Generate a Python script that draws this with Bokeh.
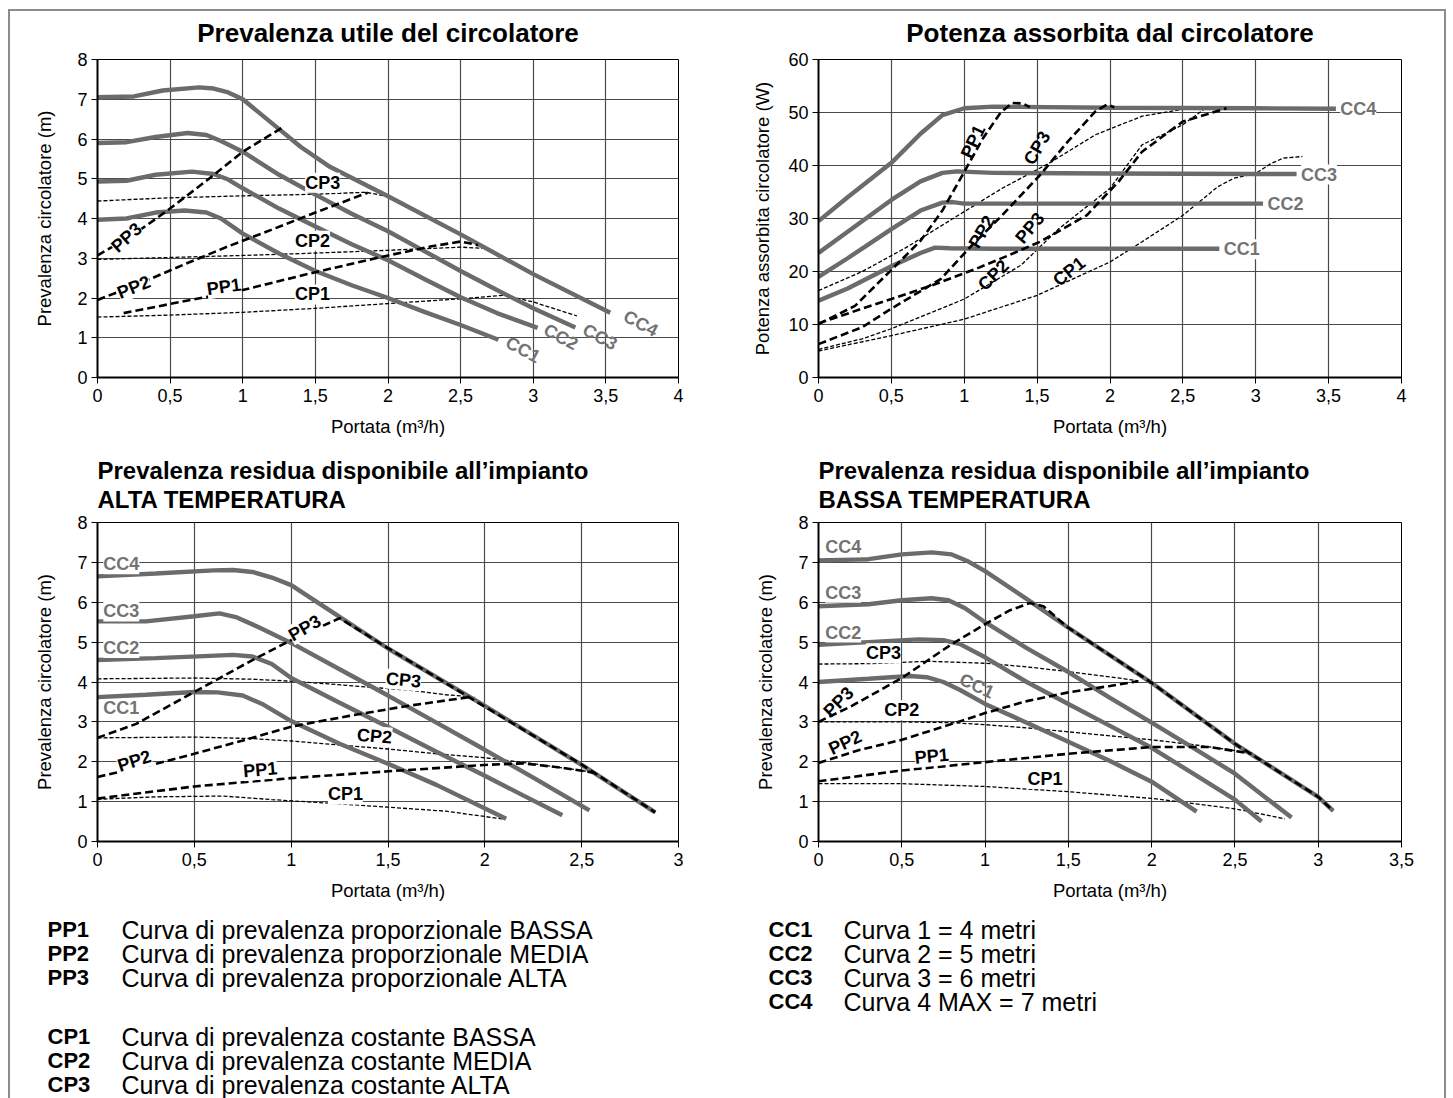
from bokeh.plotting import figure
from bokeh.models import Range1d, FixedTicker, Label
from bokeh.layouts import row, column
from bokeh.embed import file_html
from bokeh.resources import INLINE
from bokeh.core.properties import value

FONT = "Liberation Sans"

# ---------------- tick labels ----------------
x_ticks_4 = [0, 0.5, 1, 1.5, 2, 2.5, 3, 3.5, 4]
x_tick_labels_4 = ["0", "0,5", "1", "1,5", "2", "2,5", "3", "3,5", "4"]
x_ticks_3 = [0, 0.5, 1, 1.5, 2, 2.5, 3]
x_tick_labels_3 = ["0", "0,5", "1", "1,5", "2", "2,5", "3"]
x_ticks_35 = [0, 0.5, 1, 1.5, 2, 2.5, 3, 3.5]
x_tick_labels_35 = ["0", "0,5", "1", "1,5", "2", "2,5", "3", "3,5"]
y_ticks_m = [0, 1, 2, 3, 4, 5, 6, 7, 8]
y_tick_labels_m = ["0", "1", "2", "3", "4", "5", "6", "7", "8"]
y_ticks_w = [0, 10, 20, 30, 40, 50, 60]
y_tick_labels_w = ["0", "10", "20", "30", "40", "50", "60"]

# ---------------- A: Prevalenza utile del circolatore ----------------
A_CC1_x = [0, 0.2, 0.4, 0.6, 0.75, 0.85, 1.0, 1.25, 1.5, 1.75, 2.0, 2.25, 2.5, 2.76]
A_CC1_y = [3.97, 4.0, 4.15, 4.2, 4.15, 4.0, 3.62, 3.12, 2.68, 2.32, 2.0, 1.65, 1.32, 0.95]
A_CC2_x = [0, 0.2, 0.4, 0.65, 0.8, 0.9, 1.0, 1.25, 1.5, 1.75, 2.0, 2.25, 2.5, 2.75, 3.03]
A_CC2_y = [4.93, 4.95, 5.1, 5.18, 5.12, 4.98, 4.76, 4.25, 3.8, 3.35, 2.95, 2.48, 2.02, 1.62, 1.25]
A_CC3_x = [0, 0.2, 0.4, 0.62, 0.75, 0.85, 1.0, 1.25, 1.5, 1.75, 2.0, 2.25, 2.5, 2.75, 3.0, 3.29]
A_CC3_y = [5.9, 5.92, 6.05, 6.15, 6.1, 5.95, 5.68, 5.1, 4.6, 4.12, 3.68, 3.18, 2.68, 2.2, 1.74, 1.26]
A_CC4_x = [0, 0.25, 0.45, 0.7, 0.8, 0.9, 1.0, 1.2, 1.4, 1.6, 2.0, 2.5, 3.0, 3.53]
A_CC4_y = [7.05, 7.07, 7.22, 7.3, 7.27, 7.17, 7.0, 6.4, 5.8, 5.3, 4.56, 3.6, 2.6, 1.63]
A_PP1_x = [0.18, 0.5, 1.0, 1.5, 2.0, 2.3, 2.5, 2.62]
A_PP1_y = [1.62, 1.85, 2.2, 2.65, 3.07, 3.3, 3.42, 3.33]
A_PP2_x = [0, 0.3, 0.6, 0.9, 1.2, 1.5, 1.86]
A_PP2_y = [1.95, 2.38, 2.85, 3.3, 3.72, 4.15, 4.65]
A_PP3_x = [0, 0.25, 0.47, 0.75, 1.0, 1.27]
A_PP3_y = [3.07, 3.6, 4.17, 4.95, 5.68, 6.28]
A_CP1_x = [0, 0.5, 1.0, 1.5, 2.0, 2.5, 2.8, 3.0, 3.3]
A_CP1_y = [1.52, 1.57, 1.64, 1.74, 1.86, 1.98, 2.07, 1.9, 1.55]
A_CP2_x = [0, 0.5, 1.0, 1.5, 2.0, 2.5, 2.65]
A_CP2_y = [2.97, 3.02, 3.07, 3.13, 3.2, 3.28, 3.25]
A_CP3_x = [0, 0.5, 1.0, 1.5, 1.85, 2.0]
A_CP3_y = [4.44, 4.52, 4.57, 4.61, 4.66, 4.55]

# ---------------- B: Potenza assorbita dal circolatore ----------------
B_CC1_x = [0, 0.2, 0.5, 0.7, 0.8, 0.9, 1.2, 2.0, 2.75]
B_CC1_y = [14.5, 16.8, 21.0, 23.5, 24.5, 24.4, 24.3, 24.3, 24.3]
B_CC2_x = [0, 0.2, 0.5, 0.7, 0.85, 0.92, 1.0, 2.0, 3.05]
B_CC2_y = [19.0, 22.5, 28.0, 31.5, 33.0, 33.1, 32.8, 32.8, 32.8]
B_CC3_x = [0, 0.2, 0.5, 0.7, 0.85, 0.95, 1.2, 2.0, 3.0, 3.28]
B_CC3_y = [23.5, 27.5, 33.5, 37.0, 38.6, 38.9, 38.6, 38.5, 38.4, 38.4]
B_CC4_x = [0, 0.2, 0.5, 0.7, 0.85, 1.0, 1.2, 2.0, 3.0, 3.55]
B_CC4_y = [29.5, 34.0, 40.5, 46.0, 49.5, 50.8, 51.1, 50.9, 50.8, 50.7]
B_PP1_x = [0, 0.25, 0.5, 0.7, 0.85, 1.0, 1.13, 1.25, 1.33, 1.4, 1.45]
B_PP1_y = [10.1, 13.5, 20.3, 25.8, 31.5, 38.8, 45.2, 50.0, 51.8, 51.7, 51.0]
B_PP2_x = [0, 0.3, 0.5, 0.84, 1.03, 1.26, 1.52, 1.71, 1.9, 1.98, 2.03]
B_PP2_y = [6.3, 9.5, 13.0, 18.6, 24.3, 30.6, 38.2, 44.5, 50.2, 51.5, 51.0]
B_PP3_x = [0, 0.3, 0.5, 0.78, 1.08, 1.3, 1.52, 1.84, 2.06, 2.22, 2.5, 2.8]
B_PP3_y = [10.2, 13.0, 14.8, 17.4, 20.5, 23.0, 25.6, 30.6, 37.0, 42.6, 48.3, 50.8]
B_CP1_x = [0, 0.5, 1.0, 1.5, 2.0, 2.22, 2.5, 2.74, 2.85, 3.0, 3.1, 3.19, 3.32]
B_CP1_y = [5.0, 7.9, 11.0, 15.5, 21.8, 25.6, 30.6, 36.0, 37.6, 38.5, 40.3, 41.4, 41.7]
B_CP2_x = [0, 0.3, 0.5, 1.0, 1.39, 1.65, 2.0, 2.22, 2.5, 2.64]
B_CP2_y = [5.3, 7.3, 9.2, 14.8, 21.2, 28.1, 35.7, 43.9, 47.7, 50.5]
B_CP3_x = [0, 0.3, 0.6, 1.0, 1.26, 1.58, 1.9, 2.22, 2.5, 2.65]
B_CP3_y = [16.4, 20.0, 24.5, 31.3, 35.7, 40.4, 45.8, 49.3, 50.6, 51.0]

# ---------------- C: residua ALTA TEMPERATURA ----------------
C_CC1_x = [0, 0.25, 0.5, 0.62, 0.75, 0.85, 1.0, 1.25, 1.5, 1.75, 2.11]
C_CC1_y = [3.62, 3.68, 3.75, 3.74, 3.66, 3.45, 3.02, 2.45, 1.95, 1.42, 0.57]
C_CC2_x = [0, 0.3, 0.55, 0.7, 0.8, 0.9, 1.0, 1.25, 1.5, 1.75, 2.0, 2.2, 2.4]
C_CC2_y = [4.55, 4.6, 4.65, 4.68, 4.64, 4.45, 4.1, 3.48, 2.87, 2.25, 1.65, 1.15, 0.66]
C_CC3_x = [0, 0.25, 0.5, 0.63, 0.72, 0.83, 1.0, 1.25, 1.5, 1.75, 2.0, 2.25, 2.54]
C_CC3_y = [5.52, 5.52, 5.65, 5.72, 5.62, 5.38, 4.98, 4.32, 3.66, 2.98, 2.3, 1.6, 0.78]
C_CC4_x = [0, 0.3, 0.6, 0.7, 0.8, 0.9, 1.0, 1.26, 1.5, 2.0, 2.5, 2.88]
C_CC4_y = [6.65, 6.72, 6.8, 6.81, 6.76, 6.62, 6.43, 5.6, 4.84, 3.4, 1.92, 0.73]
C_PP1_x = [0, 0.5, 1.0, 1.5, 2.0, 2.2, 2.4, 2.57]
C_PP1_y = [1.08, 1.38, 1.59, 1.76, 1.92, 1.96, 1.85, 1.72]
C_PP2_x = [0, 0.3, 0.5, 0.8, 1.0, 1.3, 1.6, 1.92]
C_PP2_y = [1.62, 1.95, 2.2, 2.6, 2.88, 3.15, 3.4, 3.62]
C_PP3_x = [0, 0.2, 0.5, 0.8, 1.0, 1.25, 1.5, 2.0, 2.5, 2.88]
C_PP3_y = [2.6, 2.95, 3.75, 4.55, 5.05, 5.6, 4.85, 3.38, 1.93, 0.73]
C_CP1_x = [0, 0.3, 0.65, 0.9, 1.2, 1.5, 1.8, 2.1]
C_CP1_y = [1.06, 1.12, 1.14, 1.05, 0.96, 0.86, 0.76, 0.56]
C_CP2_x = [0, 0.5, 0.8, 1.0, 1.25, 1.5, 1.75, 2.0, 2.25, 2.5, 2.57]
C_CP2_y = [2.6, 2.62, 2.58, 2.52, 2.42, 2.32, 2.2, 2.1, 1.95, 1.78, 1.72]
C_CP3_x = [0, 0.5, 0.8, 1.0, 1.2, 1.4, 1.6, 1.8, 1.95]
C_CP3_y = [4.08, 4.1, 4.07, 4.02, 3.95, 3.87, 3.8, 3.68, 3.62]

# ---------------- D: residua BASSA TEMPERATURA ----------------
D_CC1_x = [0, 0.3, 0.55, 0.65, 0.75, 0.85, 1.0, 1.25, 1.5, 1.75, 2.0, 2.27]
D_CC1_y = [4.0, 4.08, 4.15, 4.12, 4.0, 3.8, 3.45, 2.98, 2.5, 2.02, 1.5, 0.75]
D_CC2_x = [0, 0.3, 0.6, 0.75, 0.85, 1.0, 1.25, 1.5, 1.75, 2.0, 2.25, 2.5, 2.66]
D_CC2_y = [4.93, 5.0, 5.07, 5.05, 4.95, 4.62, 4.0, 3.45, 2.9, 2.35, 1.7, 1.05, 0.5]
D_CC3_x = [0, 0.3, 0.5, 0.68, 0.78, 0.88, 1.0, 1.25, 1.5, 1.75, 2.0, 2.25, 2.5, 2.84]
D_CC3_y = [5.9, 5.95, 6.05, 6.1, 6.05, 5.85, 5.5, 4.85, 4.25, 3.6, 2.98, 2.35, 1.7, 0.6]
D_CC4_x = [0, 0.3, 0.5, 0.68, 0.8, 0.9, 1.0, 1.24, 1.5, 2.0, 2.5, 3.0, 3.09]
D_CC4_y = [7.05, 7.08, 7.2, 7.25, 7.2, 7.02, 6.78, 6.11, 5.36, 3.98, 2.45, 1.12, 0.77]
D_PP1_x = [0, 0.5, 1.0, 1.5, 2.0, 2.35, 2.6]
D_PP1_y = [1.51, 1.78, 1.99, 2.2, 2.37, 2.37, 2.2]
D_PP2_x = [0, 0.25, 0.5, 0.75, 1.0, 1.25, 1.5, 1.75, 1.92]
D_PP2_y = [1.97, 2.3, 2.55, 2.88, 3.22, 3.52, 3.74, 3.9, 4.02]
D_PP3_x = [0, 0.2, 0.5, 0.8, 1.0, 1.15, 1.27, 1.35, 1.5, 2.0, 2.5, 3.0, 3.09]
D_PP3_y = [3.0, 3.4, 4.1, 4.95, 5.45, 5.8, 5.98, 5.9, 5.36, 3.98, 2.45, 1.12, 0.77]
D_CP1_x = [0, 0.5, 1.0, 1.5, 2.0, 2.5, 2.8]
D_CP1_y = [1.45, 1.45, 1.38, 1.25, 1.08, 0.82, 0.57]
D_CP2_x = [0, 0.5, 0.8, 1.0, 1.25, 1.5, 1.75, 2.0, 2.25, 2.5, 2.6]
D_CP2_y = [3.0, 3.0, 2.98, 2.93, 2.85, 2.75, 2.65, 2.55, 2.43, 2.28, 2.2]
D_CP3_x = [0, 0.3, 0.66, 1.0, 1.25, 1.5, 1.75, 1.92]
D_CP3_y = [4.45, 4.46, 4.52, 4.47, 4.38, 4.26, 4.13, 4.03]

# ---------------- legend texts ----------------
leg_left_codes = ["PP1", "PP2", "PP3", "CP1", "CP2", "CP3"]
leg_left_texts = ["Curva di prevalenza proporzionale BASSA",
                  "Curva di prevalenza proporzionale MEDIA",
                  "Curva di prevalenza proporzionale ALTA",
                  "Curva di prevalenza costante BASSA",
                  "Curva di prevalenza costante MEDIA",
                  "Curva di prevalenza costante ALTA"]
leg_right_codes = ["CC1", "CC2", "CC3", "CC4"]
leg_right_texts = ["Curva 1 = 4 metri", "Curva 2 = 5 metri",
                   "Curva 3 = 6 metri", "Curva 4 MAX = 7 metri"]

GRAY = "#6b6b6b"
LGRAY = "#737373"


def make_panel(width, height, xmax, ymax, xticks, xlabels, yticks, ylabels,
               ylabel, ml, mr, mt, mb, ylab_standoff, title, title_size):
    p = figure(width=width, height=height, x_range=Range1d(0, xmax),
               y_range=Range1d(0, ymax), output_backend="svg",
               toolbar_location=None, min_border_left=ml, min_border_right=mr,
               min_border_top=mt, min_border_bottom=mb, title=title)
    p.border_fill_color = None
    p.background_fill_color = "white"
    p.outline_line_color = "black"
    p.outline_line_width = 1
    p.xaxis.ticker = FixedTicker(ticks=xticks)
    p.xaxis.major_label_overrides = dict(zip(xticks, xlabels))
    p.yaxis.ticker = FixedTicker(ticks=yticks)
    p.yaxis.major_label_overrides = dict(zip(yticks, ylabels))
    p.xaxis.axis_label = "Portata (m³/h)"
    p.yaxis.axis_label = ylabel
    for ax in (p.xaxis[0], p.yaxis[0]):
        ax.major_label_text_font = FONT
        ax.major_label_text_font_size = "18px"
        ax.major_label_text_color = "black"
        ax.axis_label_text_font = FONT
        ax.axis_label_text_font_size = "18.5px"
        ax.axis_label_text_font_style = "normal"
        ax.axis_label_text_color = "black"
        ax.axis_line_width = 2
        ax.axis_line_color = "black"
        ax.major_tick_out = 6
        ax.major_tick_in = 0
        ax.minor_tick_out = 0
        ax.minor_tick_in = 0
        ax.major_tick_line_color = "black"
    p.xaxis.major_label_standoff = 5
    p.yaxis.major_label_standoff = 4
    p.xaxis.axis_label_standoff = 11
    p.yaxis.axis_label_standoff = ylab_standoff
    p.xgrid.grid_line_color = "#4a4a4a"
    p.ygrid.grid_line_color = "#4a4a4a"
    p.xgrid.grid_line_width = 1.2
    p.ygrid.grid_line_width = 1.2
    p.title.text_font = FONT
    p.title.text_font_size = title_size
    p.title.text_font_style = "bold"
    p.title.text_color = "black"
    return p


def cc(p, x, y):
    p.line(x, y, line_color=GRAY, line_width=4.4)


def pp(p, x, y):
    p.line(x, y, line_color="black", line_width=2.6, line_dash="8 4")


def cp(p, x, y):
    p.line(x, y, line_color="black", line_width=1.3, line_dash="4 2")


def lab(p, text, x, y, angle=0, color="black", align="center", bg="white"):
    p.add_layout(Label(x=x, y=y, text=text, angle=angle, angle_units="deg",
                       text_font=FONT, text_font_size="18px",
                       text_font_style="bold", text_color=color,
                       text_align=align, text_baseline="middle",
                       background_fill_color=bg))


# ---------- panel A ----------
pA = make_panel(712, 443, 4, 8, x_ticks_4, x_tick_labels_4, y_ticks_m,
                y_tick_labels_m, "Prevalenza circolatore (m)",
                89, 42, 57, 68, 19, "Prevalenza utile del circolatore", "26px")
pA.title.align = "center"
pA.title.standoff = 24
for x, y in [(A_CP1_x, A_CP1_y), (A_CP2_x, A_CP2_y), (A_CP3_x, A_CP3_y)]:
    cp(pA, x, y)
for x, y in [(A_CC1_x, A_CC1_y), (A_CC2_x, A_CC2_y), (A_CC3_x, A_CC3_y), (A_CC4_x, A_CC4_y)]:
    cc(pA, x, y)
for x, y in [(A_PP1_x, A_PP1_y), (A_PP2_x, A_PP2_y), (A_PP3_x, A_PP3_y)]:
    pp(pA, x, y)
lab(pA, "CP3", 1.55, 4.9)
lab(pA, "CP2", 1.48, 3.44)
lab(pA, "CP1", 1.48, 2.09)
lab(pA, "PP1", 0.87, 2.28, 8)
lab(pA, "PP2", 0.25, 2.27, 22)
lab(pA, "PP3", 0.2, 3.52, 42)
lab(pA, "CC1", 2.93, 0.7, -28, LGRAY, bg=None)
lab(pA, "CC2", 3.19, 1.02, -28, LGRAY, bg=None)
lab(pA, "CC3", 3.46, 1.02, -28, LGRAY, bg=None)
lab(pA, "CC4", 3.74, 1.36, -28, LGRAY, bg=None)

# ---------- panel B ----------
pB = make_panel(726, 443, 4, 60, x_ticks_4, x_tick_labels_4, y_ticks_w,
                y_tick_labels_w, "Potenza assorbita circolatore (W)",
                98, 45, 57, 68, 12, "Potenza assorbita dal circolatore", "26px")
pB.title.align = "center"
pB.title.standoff = 24
for x, y in [(B_CP1_x, B_CP1_y), (B_CP2_x, B_CP2_y), (B_CP3_x, B_CP3_y)]:
    cp(pB, x, y)
for x, y in [(B_CC1_x, B_CC1_y), (B_CC2_x, B_CC2_y), (B_CC3_x, B_CC3_y), (B_CC4_x, B_CC4_y)]:
    cc(pB, x, y)
for x, y in [(B_PP1_x, B_PP1_y), (B_PP2_x, B_PP2_y), (B_PP3_x, B_PP3_y)]:
    pp(pB, x, y)
lab(pB, "PP1", 1.06, 44.5, 65, bg=None)
lab(pB, "CP3", 1.5, 43.3, 60, bg=None)
lab(pB, "PP2", 1.12, 27.5, 60, bg=None)
lab(pB, "PP3", 1.45, 28.2, 50, bg=None)
lab(pB, "CP2", 1.2, 19.3, 45, bg=None)
lab(pB, "CP1", 1.72, 20.0, 38, bg=None)
lab(pB, "CC4", 3.58, 50.7, 0, LGRAY, align="left")
lab(pB, "CC3", 3.31, 38.3, 0, LGRAY, align="left")
lab(pB, "CC2", 3.08, 32.7, 0, LGRAY, align="left")
lab(pB, "CC1", 2.78, 24.2, 0, LGRAY, align="left")

# ---------- panel C ----------
pC = make_panel(712, 466, 3, 8, x_ticks_3, x_tick_labels_3, y_ticks_m,
                y_tick_labels_m, "Prevalenza circolatore (m)",
                89, 42, 77, 70, 19,
                "Prevalenza residua disponibile all’impianto\nALTA TEMPERATURA", "24px")
pC.title.align = "left"
pC.title.standoff = 18
pC.title.text_line_height = 1.1
for x, y in [(C_CP1_x, C_CP1_y), (C_CP2_x, C_CP2_y), (C_CP3_x, C_CP3_y)]:
    cp(pC, x, y)
for x, y in [(C_CC1_x, C_CC1_y), (C_CC2_x, C_CC2_y), (C_CC3_x, C_CC3_y), (C_CC4_x, C_CC4_y)]:
    cc(pC, x, y)
for x, y in [(C_PP1_x, C_PP1_y), (C_PP2_x, C_PP2_y), (C_PP3_x, C_PP3_y)]:
    pp(pC, x, y)
lab(pC, "CC4", 0.03, 6.95, 0, LGRAY, align="left")
lab(pC, "CC3", 0.03, 5.77, 0, LGRAY, align="left")
lab(pC, "CC2", 0.03, 4.85, 0, LGRAY, align="left")
lab(pC, "CC1", 0.03, 3.34, 0, LGRAY, align="left", bg=None)
lab(pC, "PP3", 1.07, 5.35, 30)
lab(pC, "CP3", 1.58, 4.05, -5)
lab(pC, "CP2", 1.43, 2.64, -5)
lab(pC, "PP2", 0.19, 2.02, 18)
lab(pC, "PP1", 0.84, 1.8, 5)
lab(pC, "CP1", 1.28, 1.18)

# ---------- panel D ----------
pD = make_panel(726, 466, 3.5, 8, x_ticks_35, x_tick_labels_35, y_ticks_m,
                y_tick_labels_m, "Prevalenza circolatore (m)",
                98, 45, 77, 70, 19,
                "Prevalenza residua disponibile all’impianto\nBASSA TEMPERATURA", "24px")
pD.title.align = "left"
pD.title.standoff = 18
pD.title.text_line_height = 1.1
for x, y in [(D_CP1_x, D_CP1_y), (D_CP2_x, D_CP2_y), (D_CP3_x, D_CP3_y)]:
    cp(pD, x, y)
for x, y in [(D_CC1_x, D_CC1_y), (D_CC2_x, D_CC2_y), (D_CC3_x, D_CC3_y), (D_CC4_x, D_CC4_y)]:
    cc(pD, x, y)
for x, y in [(D_PP1_x, D_PP1_y), (D_PP2_x, D_PP2_y), (D_PP3_x, D_PP3_y)]:
    pp(pD, x, y)
lab(pD, "CC4", 0.04, 7.38, 0, LGRAY, align="left")
lab(pD, "CC3", 0.04, 6.24, 0, LGRAY, align="left")
lab(pD, "CC2", 0.04, 5.24, 0, LGRAY, align="left")
lab(pD, "CP3", 0.39, 4.72)
lab(pD, "CC1", 0.95, 3.9, -25, LGRAY, bg=None)
lab(pD, "PP3", 0.12, 3.5, 45, bg=None)
lab(pD, "CP2", 0.5, 3.29)
lab(pD, "PP2", 0.16, 2.48, 25, bg=None)
lab(pD, "PP1", 0.68, 2.14, 5)
lab(pD, "CP1", 1.36, 1.57)

# ---------- legend ----------
pL = figure(width=1438, height=187, x_range=Range1d(0, 1438),
            y_range=Range1d(187, 0), output_backend="svg",
            toolbar_location=None, min_border=0)
pL.axis.visible = False
pL.grid.visible = False
pL.outline_line_color = None
pL.border_fill_color = None
pL.background_fill_color = None
left_y = [18, 42, 66, 125, 149, 173]
right_y = [18, 42, 66, 90]
pL.text(x=[39] * 6, y=left_y, text=leg_left_codes, text_font=value(FONT),
        text_font_size="22px", text_font_style="bold", text_baseline="middle",
        text_color="black")
pL.text(x=[113] * 6, y=left_y, text=leg_left_texts, text_font=value(FONT),
        text_font_size="25px", text_baseline="middle", text_color="black")
pL.text(x=[760] * 4, y=right_y, text=leg_right_codes, text_font=value(FONT),
        text_font_size="22px", text_font_style="bold", text_baseline="middle",
        text_color="black")
pL.text(x=[835] * 4, y=right_y, text=leg_right_texts, text_font=value(FONT),
        text_font_size="25px", text_baseline="middle", text_color="black")

LINE = "linear-gradient(#8c8c8c, #8c8c8c)"
layout = column(
    row(pA, pB), row(pC, pD), pL,
    styles={"margin-left": "8px", "margin-top": "2px",
            "background-color": "white",
            "background-image": f"{LINE}, {LINE}, {LINE}",
            "background-size": "100% 2px, 2px 100%, 2px 100%",
            "background-position": "0 7px, 0 7px, 100% 7px",
            "background-repeat": "no-repeat"})

open("out.html", "w").write(file_html(layout, INLINE))
